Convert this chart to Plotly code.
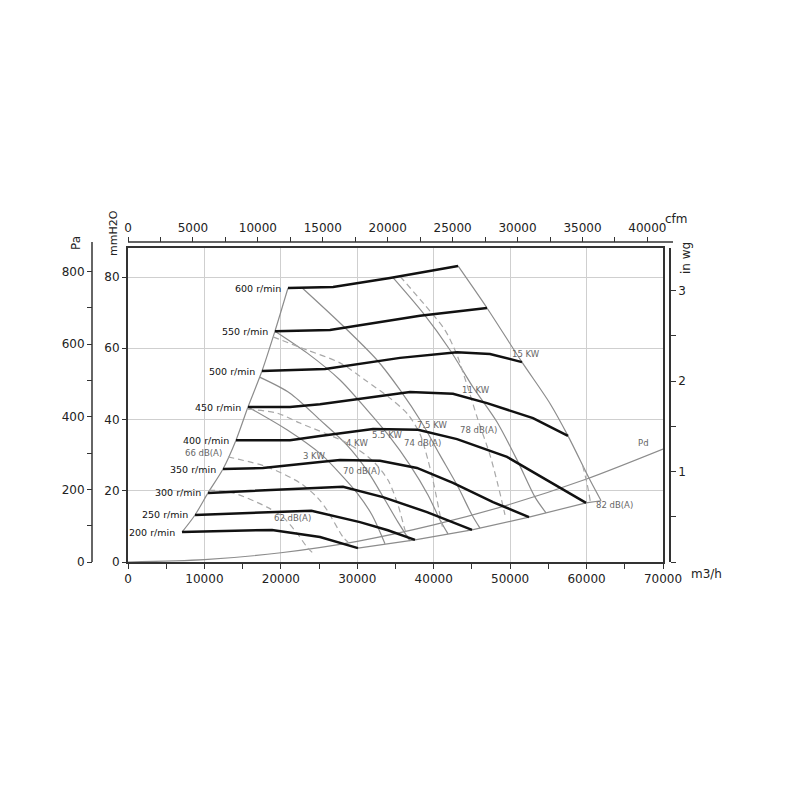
import plotly.graph_objects as go

# ---------------- data (flow in m3/h, pressure in mmH2O) ----------------
flow_range = [0, 70000]
press_top_mm = 88.14
MMH2O_TO_PA = 9.80665
M3H_PER_CFM = 1.69901
MM_PER_INWG = 25.4

rpm_names = ["200 r/min", "250 r/min", "300 r/min", "350 r/min", "400 r/min",
             "450 r/min", "500 r/min", "550 r/min", "600 r/min"]
q_200 = [7070, 18840, 25120, 30090]
p_200 = [8.4, 9.0, 7.0, 3.9]
q_250 = [8770, 24000, 30350, 34000, 37550]
p_250 = [13.2, 14.4, 11.2, 8.9, 6.2]
q_300 = [10470, 25120, 28130, 33360, 39120, 45010]
p_300 = [19.4, 20.8, 21.1, 18.2, 14.0, 9.0]
q_350 = [12430, 17660, 25120, 27740, 32970, 37810, 42520, 47760, 52470]
p_350 = [26.1, 26.4, 28.1, 28.6, 28.4, 26.4, 22.2, 16.8, 12.6]
q_400 = [14130, 21200, 25120, 32060, 37940, 43050, 49590, 56520, 59930]
p_400 = [34.2, 34.2, 35.4, 37.3, 37.1, 34.5, 29.5, 20.8, 16.6]
q_450 = [15700, 21200, 25120, 36900, 42520, 46970, 52990, 57570]
p_450 = [43.5, 43.5, 44.3, 47.7, 47.2, 44.6, 40.4, 35.4]
q_500 = [17530, 25780, 35590, 43050, 47360, 51550]
p_500 = [53.6, 54.2, 57.3, 58.9, 58.4, 56.1]
q_550 = [19230, 26430, 38200, 46970]
p_550 = [64.8, 65.1, 69.1, 71.3]
q_600 = [20935, 26830, 34280, 43180]
p_600 = [76.9, 77.2, 79.7, 83.1]

# envelope
q_left = [7070, 8770, 10470, 12430, 14130, 15700, 17530, 19230, 20935]
p_left = [8.4, 13.2, 19.4, 26.1, 34.2, 43.5, 53.6, 64.8, 76.9]
q_maxflow = [30090, 37550, 45010, 52470, 59930, 61900]
p_maxflow = [3.9, 6.2, 9.0, 12.6, 16.6, 17.2]

# power lines
q_3kw = [15701, 20804, 25383, 28131, 29962, 31925, 33626]
p_3kw = [43.5, 37.1, 30.0, 23.9, 19.4, 13.2, 5.1]
q_4kw = [17220, 21196, 25121, 28654, 31402, 33626, 35327, 36897]
p_4kw = [51.9, 47.4, 39.9, 32.8, 25.3, 17.4, 11.2, 5.9]
q_55kw = [19233, 23420, 27738, 31271, 34149, 36897, 39252, 40822, 41869]
p_55kw = [64.8, 58.7, 51.1, 42.7, 35.4, 27.2, 18.8, 11.8, 7.9]
q_75kw = [22766, 27738, 32579, 35588, 38467, 40822, 43177, 45009, 46056]
p_75kw = [77.0, 67.1, 56.7, 48.3, 39.0, 30.0, 21.1, 13.2, 9.5]
q_11kw = [34673, 38598, 42130, 45140, 48280, 51028, 53252, 54692]
p_11kw = [79.8, 69.9, 59.5, 49.1, 39.3, 28.1, 18.2, 13.8]
q_15kw = [43180, 46970, 51550, 55214, 57570, 60449, 61900]
p_15kw = [83.1, 71.3, 56.1, 44.5, 35.4, 23.0, 17.2]

# noise lines
q_62 = [10598, 13738, 18187, 20280, 22112, 23420, 24205]
p_62 = [20.2, 19.4, 15.4, 12.6, 8.1, 4.2, 2.5]
q_66 = [13084, 18187, 22504, 24729, 26037, 28131, 28785]
p_66 = [29.5, 26.7, 22.2, 18.2, 14.6, 7.0, 5.6]
q_70 = [15701, 19495, 22504, 28654, 31925, 34018, 35327, 36243, 36635]
p_70 = [42.9, 41.8, 39.0, 33.4, 28.6, 23.0, 16.0, 9.0, 6.7]
q_74 = [18972, 23420, 27738, 31009, 34280, 36635, 38205, 39252, 40037, 40692, 41215]
p_74 = [63.2, 59.5, 55.9, 51.1, 46.0, 41.4, 35.9, 28.6, 21.6, 14.6, 9.0]
q_78 = [35588, 38860, 41477, 43046, 44355, 45794, 47364, 48411, 49327]
p_78 = [80.2, 72.1, 65.1, 58.1, 49.7, 39.9, 30.0, 21.6, 13.2]
q_82 = [59500, 60100, 60500]
p_82 = [27.0, 21.6, 16.9]

# dynamic pressure
q_pd = [0, 10000, 20000, 30000, 40000, 50000, 60000, 70000]
p_pd = [0, 0.65, 2.6, 5.8, 10.4, 16.2, 23.3, 31.7]

kw_labels = ["3 KW", "4 KW", "5.5 KW", "7.5 KW", "11 KW", "15 KW"]
kw_label_q = [24336, 29962, 33888, 39776, 45532, 52074]
kw_label_p = [29.8, 33.4, 35.6, 38.5, 48.3, 58.4]
db_labels = ["62 dB(A)", "66 dB(A)", "70 dB(A)", "74 dB(A)", "78 dB(A)", "82 dB(A)"]
db_label_q = [21458, 9813, 30486, 38467, 45794, 63590]
db_label_p = [12.4, 30.6, 25.5, 33.4, 37.1, 16.0]

x_ticks = [0, 10000, 20000, 30000, 40000, 50000, 60000, 70000]
x_text = ["0", "10000", "20000", "30000", "40000", "50000", "60000", "70000"]
mm_ticks = [0, 20, 40, 60, 80]
pa_ticks = [0, 100, 200, 300, 400, 500, 600, 700, 800]
pa_text = ["0", "", "200", "", "400", "", "600", "", "800"]
cfm_ticks = [0, 2500, 5000, 7500, 10000, 12500, 15000, 17500, 20000, 22500,
             25000, 27500, 30000, 32500, 35000, 37500, 40000]
cfm_text = ["0", "", "5000", "", "10000", "", "15000", "", "20000", "",
            "25000", "", "30000", "", "35000", "", "40000"]
inwg_ticks = [0, 0.5, 1, 1.5, 2, 2.5, 3]
inwg_text = ["", "", "1", "", "2", "", "3"]

# ---------------- figure ----------------
W = H = 800
PAGE_OFFSET = 8  # default body margin of the html page

def px_x(p):
    return (p - PAGE_OFFSET) / W
def px_y(p):
    return 1 - (p - PAGE_OFFSET) / H

FONT = "DejaVu Sans"
GRAY_SOLID = "#8c8c8c"
GRAY_DASH = "#a8a8a8"

fig = go.Figure()

def add_line(q, p, color, width, dash="solid", shape="spline"):
    fig.add_trace(go.Scatter(x=q, y=p, mode="lines",
                             line=dict(color=color, width=width, dash=dash,
                                       shape=shape, smoothing=0.8),
                             showlegend=False, hoverinfo="skip"))

add_line(q_pd, p_pd, GRAY_SOLID, 1.2)
add_line(q_left, p_left, GRAY_SOLID, 1.2)
add_line(q_maxflow, p_maxflow, GRAY_SOLID, 1.2, shape="linear")
for q, p in [(q_3kw, p_3kw), (q_4kw, p_4kw), (q_55kw, p_55kw), (q_75kw, p_75kw),
             (q_11kw, p_11kw), (q_15kw, p_15kw)]:
    add_line(q, p, GRAY_SOLID, 1.2)
for q, p in [(q_62, p_62), (q_66, p_66), (q_70, p_70), (q_74, p_74),
             (q_78, p_78), (q_82, p_82)]:
    add_line(q, p, GRAY_DASH, 1.2, dash="6px,4px")

speed_q = [q_200, q_250, q_300, q_350, q_400, q_450, q_500, q_550, q_600]
speed_p = [p_200, p_250, p_300, p_350, p_400, p_450, p_500, p_550, p_600]
for name, q, p in zip(rpm_names, speed_q, speed_p):
    add_line(q, p, "#111111", 2.5, shape="linear")
    fig.add_annotation(x=q[0], y=p[0], xref="x", yref="y", text=name,
                       showarrow=False, xanchor="right", yanchor="middle",
                       xshift=-5, font=dict(family=FONT, size=9.5, color="#111"))

for t, q, p in zip(kw_labels, kw_label_q, kw_label_p):
    fig.add_annotation(x=q, y=p, xref="x", yref="y", text=t, showarrow=False,
                       font=dict(family=FONT, size=8.5, color="#666"))
for t, q, p in zip(db_labels, db_label_q, db_label_p):
    fig.add_annotation(x=q, y=p, xref="x", yref="y", text=t, showarrow=False,
                       font=dict(family=FONT, size=8.5, color="#666"))
fig.add_annotation(x=67513, y=33.4, xref="x", yref="y", text="Pd", showarrow=False,
                   font=dict(family=FONT, size=8.5, color="#666"))

# dummy traces so secondary axes render
fig.add_trace(go.Scatter(x=[None], y=[None], xaxis="x2", yaxis="y",
                         showlegend=False, hoverinfo="skip"))
fig.add_trace(go.Scatter(x=[None], y=[None], xaxis="x", yaxis="y2",
                         showlegend=False, hoverinfo="skip"))
fig.add_trace(go.Scatter(x=[None], y=[None], xaxis="x", yaxis="y3",
                         showlegend=False, hoverinfo="skip"))

tickfont = dict(family=FONT, size=12, color="#222")
xdom = [px_x(128), px_x(663)]
ydom = [px_y(562), px_y(248)]

fig.update_layout(
    width=W, height=H, autosize=False,
    margin=dict(l=0, r=0, t=0, b=0, autoexpand=False),
    paper_bgcolor="white", plot_bgcolor="white",
    showlegend=False,
    xaxis=dict(domain=xdom, range=flow_range, tickvals=x_ticks, ticktext=x_text,
               ticks="outside", ticklen=5, tickcolor="#333", automargin=False,
               minor=dict(dtick=5000, ticks="outside", ticklen=5, tickcolor="#333",
                          showgrid=False),
               showgrid=True, gridcolor="#cfcfcf", gridwidth=1,
               showline=True, mirror=True, linecolor="#333", linewidth=2,
               zeroline=False, tickfont=tickfont),
    yaxis=dict(domain=ydom, range=[0, press_top_mm], tickvals=mm_ticks,
               ticks="outside", ticklen=4, tickcolor="#333", automargin=False,
               showgrid=True, gridcolor="#cfcfcf", gridwidth=1,
               showline=True, mirror=True, linecolor="#333", linewidth=2,
               zeroline=False, tickfont=tickfont),
    xaxis2=dict(overlaying="x", side="top", anchor="free", position=px_y(242),
                range=[0, flow_range[1] / M3H_PER_CFM], tickvals=cfm_ticks,
                ticktext=cfm_text, ticks="outside", ticklen=5, tickcolor="#333",
                automargin=False,
                showgrid=False, showline=False, zeroline=False, tickfont=tickfont),
    yaxis2=dict(overlaying="y", side="left", anchor="free", position=px_x(92),
                range=[0, press_top_mm * MMH2O_TO_PA], tickvals=pa_ticks,
                ticktext=pa_text, ticks="outside", ticklen=5, tickcolor="#333",
                automargin=False,
                showgrid=False, showline=False, zeroline=False, tickfont=tickfont),
    yaxis3=dict(overlaying="y", side="right", anchor="free", position=px_x(670),
                range=[0, press_top_mm / MM_PER_INWG], tickvals=inwg_ticks,
                ticktext=inwg_text, ticks="outside", ticklen=5, tickcolor="#333",
                automargin=False,
                showgrid=False, showline=True, linecolor="#333", linewidth=1.5,
                zeroline=False, tickfont=tickfont),
)

# axis lines drawn as shapes (extend beyond plot area like the original)
fig.add_shape(type="line", xref="paper", yref="paper",
              x0=px_x(128), x1=px_x(673), y0=px_y(242), y1=px_y(242),
              line=dict(color="#333", width=1.5))
fig.add_shape(type="line", xref="paper", yref="paper",
              x0=px_x(92), x1=px_x(92), y0=px_y(562), y1=px_y(242),
              line=dict(color="#333", width=1.5))

titles = [
    ("Pa", 76, 243, -90, 12),
    ("mmH2O", 113, 233, -90, 11),
    ("in wg", 686, 258, -90, 12),
    ("cfm", 676, 219, 0, 12),
    ("m3/h", 706, 574, 0, 12),
]
for t, x, y, ang, fs in titles:
    fig.add_annotation(x=px_x(x), y=px_y(y), xref="paper", yref="paper", text=t,
                       showarrow=False, textangle=ang, xanchor="center",
                       yanchor="middle", font=dict(family=FONT, size=fs, color="#222"))

fig.write_html("out.html")
